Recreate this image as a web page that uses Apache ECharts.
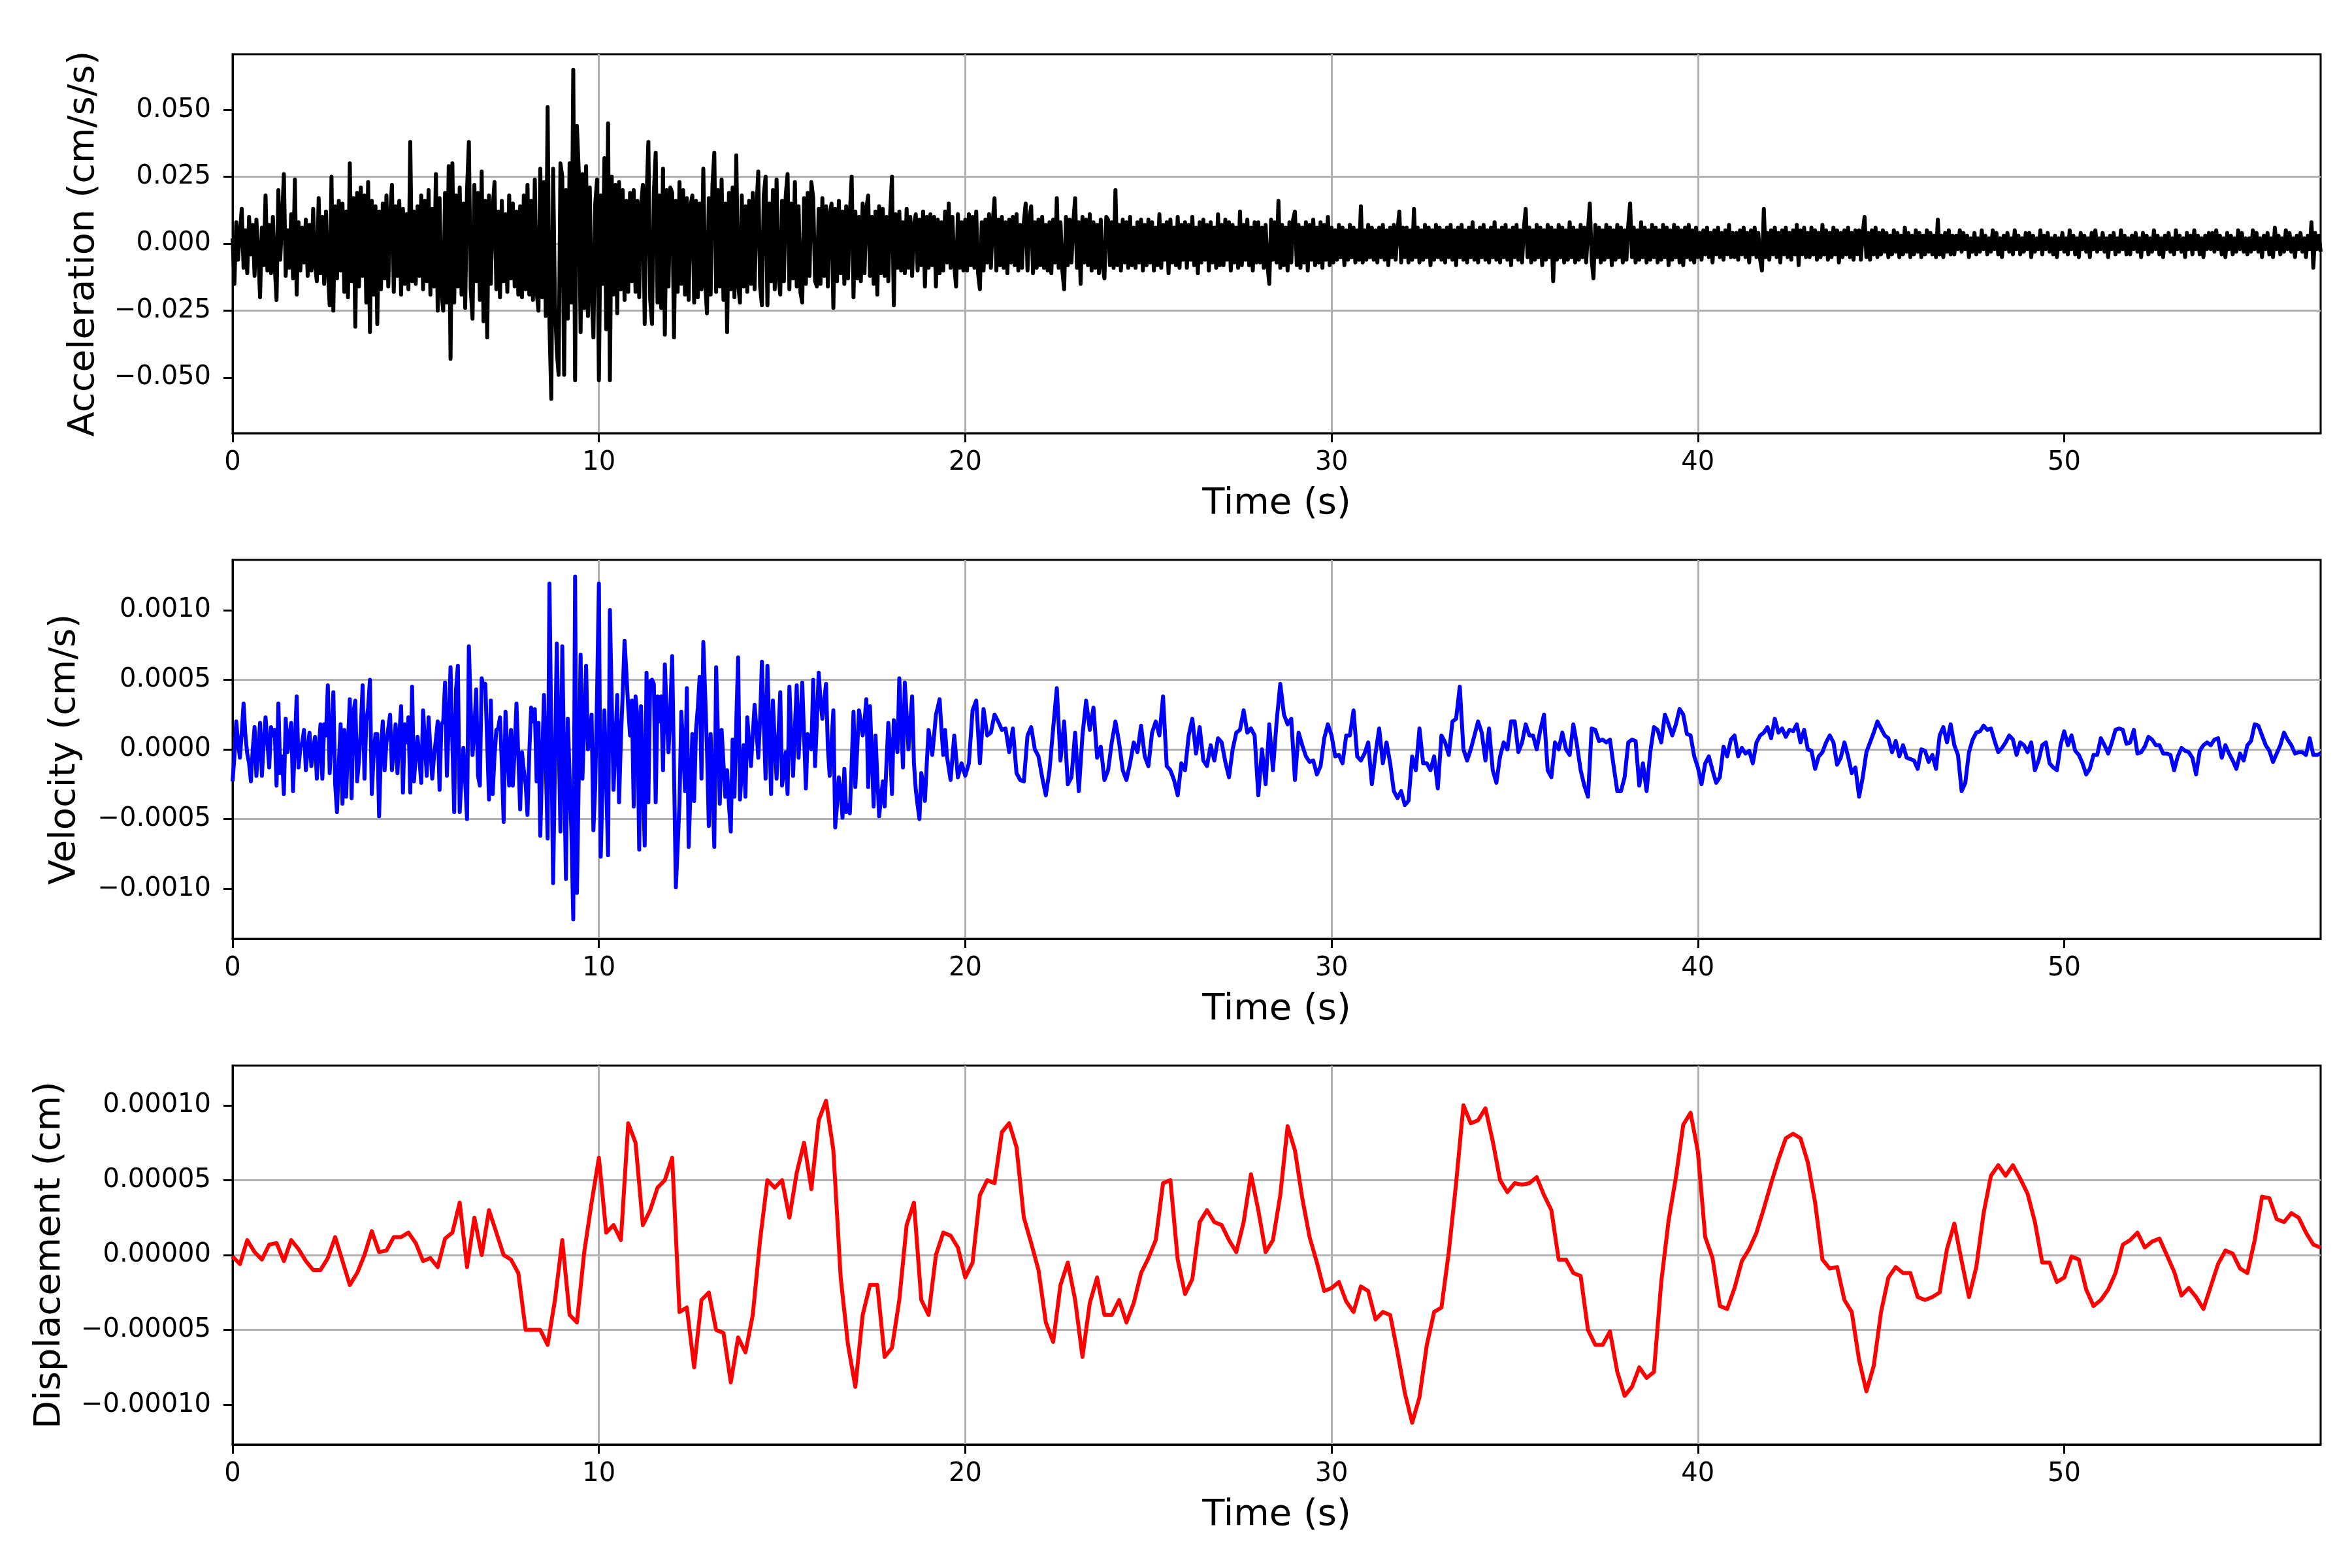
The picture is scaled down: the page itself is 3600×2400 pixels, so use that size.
<!DOCTYPE html>
<html>
<head>
<meta charset="utf-8">
<script src="https://cdn.jsdelivr.net/npm/echarts@6/dist/echarts.min.js"></script>
<style>
  html, body { margin: 0; background: #fff; }
  #chart { width: 3600px; height: 2400px; }
</style>
</head>
<body>
<div id="chart"></div>
<script>
// time axis
const timeMax = 57
const timeTicks = [0, 10, 20, 30, 40, 50]

// acceleration, read in units of 0.001 cm/s/s, one value every 0.05 s from t = 0
const accStep = 0.05
const accMilli = [
  2,-15,8,-6,4,13,-9,5,-11,10,-4,7,-12,9,-3,-20,6,-8,18,-10,
  7,-11,10,-8,-21,20,-6,9,26,-12,5,-9,11,-13,24,-19,8,-10,6,-7,
  9,-12,7,-10,13,-8,-14,17,-11,10,-15,12,-9,-23,25,-25,14,-13,16,-10,
  15,-18,12,-20,30,-14,17,-31,19,-16,21,-12,18,-22,23,-33,16,-19,14,-30,
  12,-17,15,-13,18,-16,10,22,-18,14,-12,16,-19,13,-15,11,-17,38,-14,12,
  -15,14,-12,18,-17,16,-14,20,-19,13,-16,26,-25,17,-18,-25,19,-22,29,-43,
  30,-22,18,-16,21,-19,15,-24,20,38,-17,-28,22,-14,19,-21,27,-29,16,-35,
  18,-15,13,23,-17,12,-20,16,-14,11,-18,18,-13,15,-16,12,-19,14,-20,18,
  -17,22,-19,16,-21,24,-18,-25,28,-20,23,-27,51,-30,-58,28,-22,-40,-49,30,
  25,-49,20,-28,30,-22,65,-51,44,27,-33,26,-24,29,-27,21,-18,-35,15,24,
  -51,18,-15,32,-32,45,-51,25,-19,22,-26,23,-17,20,-21,16,-18,19,-14,20,
  -18,16,-20,14,22,-30,17,38,-21,-30,19,34,-22,18,-24,28,-34,20,-16,21,
  19,-35,16,-18,23,-15,20,-19,17,-21,14,18,-22,16,-20,15,-17,28,-14,-26,
  17,-19,22,34,-18,20,-16,24,-21,15,-33,19,-17,21,-20,33,-15,-22,18,-16,
  14,-18,16,-15,19,-17,13,27,-16,-23,18,25,-23,15,-14,20,-17,24,-12,-19,
  16,-14,18,26,-17,15,-13,23,-16,14,-18,-22,17,-15,19,-12,23,17,-14,-16,
  13,-15,17,-12,14,-16,11,15,-24,13,-14,16,-11,12,-15,14,-13,11,25,-20,
  12,-13,10,-14,15,-11,13,18,-12,10,-15,12,-19,14,-11,13,-12,10,-14,11,
  25,-23,11,-9,12,-10,8,-11,13,-9,10,-12,7,11,-10,9,-8,12,-16,10,
  -9,11,-8,10,-16,9,-11,8,-10,12,-7,15,-9,10,-8,-16,11,-9,8,-10,
  9,-10,11,-8,10,-9,12,-11,-17,8,-10,9,-7,11,-9,8,17,-10,9,-8,
  10,-9,8,-11,9,-7,10,-8,11,-10,7,-9,8,15,-10,9,14,-11,8,-9,
  9,-8,10,-9,7,-10,8,-11,9,-7,17,-9,8,-10,-17,10,-8,9,-7,8,
  17,-9,8,-15,10,-7,9,-8,11,-10,8,-9,7,-11,9,-8,-13,10,9,-8,
  8,-9,20,-8,7,-10,9,-7,8,-9,10,-8,6,-9,8,-7,9,-10,7,-8,
  9,-7,8,-10,6,-8,11,-9,7,-6,8,-11,9,-7,6,-8,10,-9,7,-6,
  8,-9,7,-6,10,-8,6,-11,8,-7,9,-6,7,-10,8,-7,6,-9,11,-8,
  7,-8,9,-6,8,-10,7,-7,6,-9,12,-8,7,-6,9,-8,6,-10,8,-7,
  8,-7,6,-9,7,-8,-15,9,-6,8,-7,16,-9,7,-8,6,-10,8,-7,9,
  12,-8,7,-9,6,-7,8,-10,7,-6,9,-8,6,-7,8,-9,7,-6,10,-8,
  6,-7,5,-6,7,-5,6,-8,5,-6,7,-5,6,-7,5,-6,14,-7,5,-6,
  7,-5,6,-6,5,-7,6,-5,7,-6,5,-8,6,-5,7,-6,5,12,-7,6,
  -5,6,-7,5,-6,13,-5,6,-7,5,-6,7,-5,6,-8,5,-6,7,-5,6,
  -6,5,-7,6,-5,7,-6,5,-8,6,-5,7,-6,5,-7,6,-5,8,-6,5,
  -7,6,-5,7,-6,5,-7,6,-5,8,-6,5,-7,6,-5,7,-6,5,-8,6,
  -5,7,-6,5,-7,6,13,-5,6,-7,5,-6,7,-5,6,-8,5,-6,7,-5,
  6,-14,5,-6,7,-5,6,-7,5,-6,8,-5,6,-7,5,-6,7,-5,6,-7,
  5,15,-6,-13,7,-5,6,-7,5,-6,7,-5,6,-8,5,-6,7,-5,6,-7,
  5,-6,7,15,-5,6,-7,5,-6,8,-5,6,-7,5,-6,7,-5,6,-7,5,
  -6,7,-5,6,-8,5,-6,7,-5,6,-7,5,-8,6,-5,7,-6,5,-7,6,
  -5,4,-6,5,-4,6,-5,4,-7,5,-4,6,-5,4,-6,5,-4,7,-5,4,
  -5,4,-6,5,-4,6,-5,4,-7,5,-4,6,-5,4,-6,-10,13,-5,4,-6,
  5,-4,6,-5,4,-7,5,-4,6,-5,4,-6,5,-4,7,-8,5,-4,6,-5,
  4,-5,6,-4,5,-6,4,-5,7,-4,5,-6,4,-5,6,-4,5,-7,4,-5,
  5,-4,6,-5,4,-6,5,-4,5,-6,4,10,-5,4,-6,5,-4,6,-5,4,
  -4,5,-3,4,-5,3,-4,5,-3,4,-5,3,-4,6,-3,4,-5,3,-4,5,
  -3,4,-5,3,-4,5,-3,4,-4,3,-5,9,-4,3,-5,4,-3,5,-4,3,
  -4,3,-2,5,-3,4,-2,3,-5,2,-3,4,-4,2,-3,5,-2,3,-4,2,
  -3,5,-2,4,-4,2,-5,3,-2,4,-3,2,-4,5,-2,3,-4,2,-3,4,
  -2,4,-5,3,-3,2,-2,5,-4,3,-2,4,-3,2,-4,3,-5,2,-2,4,
  -3,2,-4,5,-2,3,-4,2,-5,4,-2,3,-3,2,-5,4,-2,5,-3,2,
  -2,4,-3,2,-5,3,-2,4,-4,2,-3,5,-2,3,-4,2,-4,3,-2,4,
  -3,2,-5,4,-2,3,-4,2,-3,5,-2,3,-4,2,-5,3,-2,4,-3,2,
  -4,5,-2,3,-3,2,-5,4,-2,3,-4,5,-2,3,-4,2,-5,3,-2,4,
  -2,4,-3,5,-2,3,-4,2,-5,4,-2,3,-4,2,-3,5,-2,4,-3,2,
  -4,2,-3,5,-2,4,-3,2,-5,3,-2,4,-4,2,-5,6,-2,3,-4,2,
  -3,5,-2,4,-3,2,-5,3,-2,4,-3,2,-5,3,-2,8,-9,4,-2,3,
  -3
]

// velocity, read in units of 1e-5 cm/s
// strong-motion part: every 0.05 s from t = 0 to 19.5
const velEarlyStep = 0.05
const velEarly = [
  -23,-5,20,5,-6,12,33,10,-3,-10,-23,0,16,-19,0,19,-19,5,23,5,
  -13,16,10,14,-26,33,-17,-5,-32,22,-2,10,19,-30,5,38,-13,1,5,14,
  -15,0,12,-12,0,9,-21,0,18,-21,18,10,46,-17,10,41,-25,-45,-10,18,
  -39,14,-34,5,36,-35,27,35,-23,-8,15,46,-21,20,30,50,-32,-5,11,11,
  -48,0,20,-15,5,15,25,-15,0,18,-17,10,31,-31,18,5,23,-31,45,-23,
  -5,9,-8,-24,28,5,-19,23,0,-21,-5,7,20,-29,18,20,48,-19,18,59,
  5,-45,43,60,-45,-20,1,-23,-50,74,30,-4,15,43,-19,-26,51,45,47,5,
  -36,35,-32,-5,14,15,23,-10,-52,27,0,-26,14,-26,0,33,-5,-43,-2,-15,
  -25,-47,-2,30,20,29,-23,19,-62,-10,39,-10,-64,119,10,-96,-10,76,10,-59,
  74,-10,-93,22,-19,-60,-122,124,-103,-20,68,-21,20,60,0,10,25,-58,-26,40,
  119,-77,-25,28,-25,-76,100,35,-29,5,39,-38,7,40,78,55,30,10,35,-41,
  38,23,-72,31,-20,-69,55,-38,49,50,47,-38,38,20,38,-15,61,25,-2,30,
  67,-15,-99,-70,-38,27,0,-30,44,-70,-30,11,-37,14,30,52,-21,77,40,0,
  -55,11,-30,-70,59,10,-39,14,-10,-34,-15,-40,-59,7,-34,20,66,-36,-15,3,
  -34,23,5,-12,10,32,15,-6,22,63,20,-21,60,15,-32,35,5,-21,10,41,
  -26,-15,-2,-32,45,10,-19,15,46,-6,20,48,10,-28,11,5,0,50,-12,20,
  55,35,22,35,47,1,-19,5,28,-56,-40,-20,-30,-49,-14,-45,-40,-46,-10,27,
  -27,0,28,20,10,20,36,-27,31,-5,-41,10,-20,-48,-35,-23,-41,-10,19,0,
  -32,21,10,-2,51,20,-13,48,25,0,20,38,-10,-29,-40,-50,-17,-25,-37,-10,
  14,5,-4,10,25,30,36,15,-4,14,-5
]
// coda: every 0.1 s from t = 19.6 to 57.0
const velLateStart = 19.6
const velLateStep = 0.1
const velLate = [
  -22,10,-20,-10,-19,-10,28,35,-10,29,
  10,12,25,20,14,15,-2,15,-17,-22,
  -23,10,16,0,-5,-20,-33,-15,15,44,
  -8,20,-25,-20,12,-30,10,35,14,30,
  -6,2,-22,-15,5,20,5,-15,-22,-10,
  5,-2,17,-5,-12,12,20,10,38,-12,
  -15,-22,-33,-10,-15,10,22,-3,16,-8,
  -12,3,-8,8,5,-9,-20,0,12,14,
  28,12,15,10,-33,0,-25,18,-15,20,
  47,25,18,22,-22,12,3,-5,-9,-8,
  -18,-12,8,18,10,-5,-4,-10,10,10,
  28,-5,-8,-3,5,-25,-3,15,-10,5,
  -10,-30,-35,-30,-40,-37,-5,-15,15,-10,
  -10,-15,-5,-28,10,5,-4,20,22,45,
  0,-8,0,10,20,12,-8,15,-15,-24,
  -5,5,0,20,20,-2,5,18,10,10,
  0,14,25,-15,-20,5,0,12,0,-4,
  18,3,-15,-26,-34,15,14,6,7,5,
  7,-12,-30,-30,-20,5,7,
  6,-26,-10,-30,-2,16,14,5,25,18,
  10,18,29,25,11,10,-5,-13,-25,-10,
  -5,-15,-24,-20,2,-5,7,10,-5,1,
  -3,-1,-10,5,10,12,16,8,22,12,
  15,9,14,13,18,5,14,0,-1,-14,
  -5,-2,5,10,5,-11,-6,5,-5,-17,
  -13,-34,-20,-2,5,12,20,15,10,8,
  -2,6,-5,3,-6,-7,-8,-14,0,-1,
  -9,-4,-14,10,16,5,18,3,-4,-30,
  -24,-2,7,12,13,17,14,15,6,-2,
  1,5,10,7,-4,5,3,-2,5,-15,
  -8,3,5,-10,-13,-15,3,13,3,10,
  -1,-4,-10,-18,-14,-4,-4,8,3,-3,
  5,14,15,14,4,5,14,-3,-2,2,
  9,7,3,3,-3,-3,-4,-15,-5,1,
  -1,-2,-6,-18,-1,3,5,3,7,8,
  -6,3,-3,-8,-14,-3,-8,3,6,18,
  17,10,3,-1,-9,-3,3,12,7,3,
  -3,-2,-2,-4,8,-4,-4,-3
]

// displacement, read in units of 1e-6 cm, every 0.2 s from t = 0
const dispStep = 0.2
const dispMicro = [
  -1,-6,10,2,-3,7,8,-4,10,4,
  -4,-10,-10,-2,12,-4,-20,-12,0,16,
  2,3,12,12,15,8,-4,-2,-8,11,
  15,35,-8,25,0,30,15,0,-3,-12,
  -50,-50,-50,-60,-30,10,-40,-45,2,35,
  65,15,20,10,88,75,20,30,45,50,
  65,-38,-35,-75,-30,-25,-50,-52,-85,-55,
  -65,-40,10,50,45,50,25,55,75,44,
  90,103,70,-15,-60,-88,-40,-20,-20,-68,
  -62,-30,20,35,-30,-40,0,15,13,5,
  -15,-5,40,50,48,82,88,72,25,8,
  -10,-45,-58,-20,-5,-30,-68,-32,-15,-40,
  -40,-30,-45,-32,-12,-2,10,48,50,-3,
  -26,-16,22,30,22,20,10,2,22,54,
  30,2,10,40,86,70,38,12,-5,-24,
  -22,-18,-31,-38,-21,-24,-43,-38,-40,-65,
  -92,-112,-95,-60,-38,-35,2,48,100,88,
  90,98,76,50,42,48,47,48,52,40,
  30,-3,-3,-12,-14,-50,-60,-60,-51,-78,
  -94,-88,-75,-82,-78,-18,23,52,87,95,
  69,12,-2,-34,-36,-22,-4,4,15,31,
  48,64,78,81,78,62,35,-3,-9,-8,
  -30,-38,-70,-91,-74,-38,-15,-8,-12,-12,
  -28,-30,-28,-25,4,21,-4,-28,-8,28,
  53,60,53,60,51,41,22,-5,-5,-18,
  -15,-1,-3,-23,-34,-30,-23,-12,7,10,
  15,5,9,11,0,-11,-27,-22,-28,-36,
  -21,-6,3,1,-9,-12,10,39,38,24,
  22,28,25,15,7,5
]

// y limits and tick values per panel
const accLim = 0.0708
const velLim = 0.00136
const dispLim = 0.0001265
const accTicks = [-0.05, -0.025, 0, 0.025, 0.05]
const velTicks = [-0.001, -0.0005, 0, 0.0005, 0.001]
const dispTicks = [-0.0001, -0.00005, 0, 0.00005, 0.0001]

const accData = accMilli.map((v, i) => [i * accStep, v / 1000])
const velData = velEarly.map((v, i) => [i * velEarlyStep, v * 1e-5])
  .concat(velLate.map((v, i) => [velLateStart + i * velLateStep, v * 1e-5]))
const dispData = dispMicro.map((v, i) => [i * dispStep, v * 1e-6])

const font = 'DejaVu Sans'
const gridColor = '#b0b0b0'
const tops = [83, 857, 1631]

const minus = (s) => s.replace('-', '\u2212')

const xAxisFor = (i) => ({
  type: 'value', gridIndex: i, min: 0, max: timeMax,
  name: 'Time (s)', nameLocation: 'middle', nameGap: 80,
  nameTextStyle: { fontFamily: font, fontSize: 56, color: '#000' },
  axisLine: { show: true, onZero: false, lineStyle: { color: '#000', width: 3 } },
  axisTick: { show: true, length: 14, lineStyle: { color: '#000', width: 3 }, customValues: timeTicks },
  axisLabel: { fontFamily: font, fontSize: 40, color: '#000', margin: 26, customValues: timeTicks },
  splitLine: { show: true, showMinLine: false, showMaxLine: false, lineStyle: { color: gridColor, width: 3 } }
})

const yAxisFor = (i, name, lim, ticks, digits, gap) => ({
  type: 'value', gridIndex: i, min: -lim, max: lim,
  name, nameLocation: 'middle', nameGap: gap,
  nameTextStyle: { fontFamily: font, fontSize: 56, color: '#000' },
  axisLine: { show: true, onZero: false, lineStyle: { color: '#000', width: 3 } },
  axisTick: { show: true, length: 14, lineStyle: { color: '#000', width: 3 }, customValues: ticks },
  axisLabel: {
    fontFamily: font, fontSize: 40, color: '#000', margin: 33, customValues: ticks,
    formatter: (v) => minus(Number(v).toFixed(digits))
  },
  splitLine: { show: true, showMinLine: false, showMaxLine: false, lineStyle: { color: gridColor, width: 3 } }
})

const lineSeries = (i, data, color) => ({
  type: 'line', xAxisIndex: i, yAxisIndex: i, data,
  showSymbol: false, symbol: 'none', silent: true, clip: true, z: 3,
  lineStyle: { color, width: 6, join: 'round' }
})

const chart = echarts.init(document.getElementById('chart'), null, { renderer: 'canvas' })
chart.setOption({
  animation: false,
  backgroundColor: '#ffffff',
  grid: tops.map(top => ({
    left: 356, top, width: 3196, height: 580,
    show: true, borderColor: '#000', borderWidth: 3, backgroundColor: 'transparent',
    outerBoundsMode: 'none'
  })),
  xAxis: [xAxisFor(0), xAxisFor(1), xAxisFor(2)],
  yAxis: [
    yAxisFor(0, 'Acceleration (cm/s/s)', accLim, accTicks, 3, 200),
    yAxisFor(1, 'Velocity (cm/s)', velLim, velTicks, 4, 229),
    yAxisFor(2, 'Displacement (cm)', dispLim, dispTicks, 5, 252)
  ],
  series: [
    lineSeries(0, accData, '#000000'),
    lineSeries(1, velData, '#0000ff'),
    lineSeries(2, dispData, '#ff0000')
  ]
})
</script>
</body>
</html>
